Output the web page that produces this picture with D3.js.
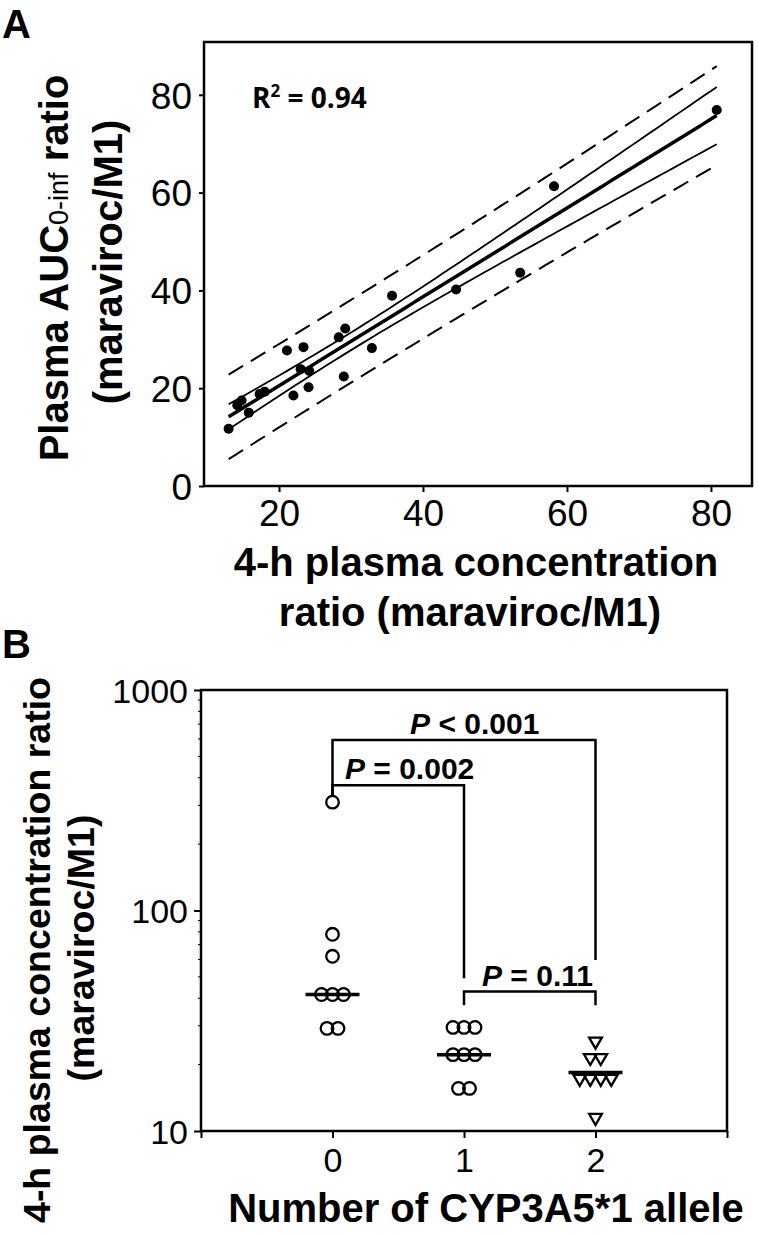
<!DOCTYPE html>
<html><head><meta charset="utf-8">
<script src="https://cdn.jsdelivr.net/npm/d3@7"></script>
<style>body{margin:0;background:#fff} svg{display:block}</style>
</head><body>
<svg id="c" width="759" height="1234"></svg>
<script>
// ---------- Panel A data ----------
const conc4h   = [13.0,14.2,14.8,15.8,17.3,18.0,21.1,23.4,22.0,23.0,24.2,24.1,28.3,29.2,29.0,32.9,35.7,44.6,53.5,58.2,80.8];
const aucRatio = [11.7,16.5,17.5,15.0,18.8,19.3,27.7,28.4,18.5,23.9,23.5,20.2,30.4,32.2,22.4,28.2,38.9,40.2,43.6,61.3,76.9];
const xTicksA = [20,40,60,80];
const yTicksA = [0,20,40,60,80];
const tCrit = 2.093; // t(0.975, df = 19)

// ---------- Panel B data ----------
const alleleCats = [0,1,2];
const group0 = [310,78,62,41.6,41.6,41.6,29.2,29.2];
const group1 = [29.5,29.5,29.5,22.2,22.2,22.2,15.6,15.6];
const group2 = [25.5,21.5,21.5,17.3,17.3,17.3,17.3,11.5];
const groupMedians = [41.6,22.2,18.4];
const yTicksB = [10,100,1000];
const xTicksB = [-1,0,1,2,3];
const pLabels = ["< 0.001","= 0.002","= 0.11"];
const bracketFrom = [0,0,1];
const bracketTo   = [2,1,2];
const bracketLevel = [593,370,42.9];
const bracketLeftEnd = [334,334,37.2];
const bracketRightEnd = [59.7,49.3,37.2];

const svg = d3.select("#c");
const F = "'Liberation Sans', Arial, Helvetica, sans-serif";
const TITLE = 40;

// ================= PANEL A =================
const xA = d3.scaleLinear().domain([9.58, 85.7]).range([204, 752]);
const yA = d3.scaleLinear().domain([0, 90.8]).range([486, 42]);
const A = svg.append("g");

// least-squares fit with 95% confidence and prediction bands, computed from the data
const n = conc4h.length;
const mx = d3.mean(conc4h), my = d3.mean(aucRatio);
const sxx = d3.sum(conc4h, d => (d-mx)**2);
const syy = d3.sum(aucRatio, d => (d-my)**2);
const sxy = d3.sum(conc4h, (d,i) => (d-mx)*(aucRatio[i]-my));
const slope = sxy/sxx, icpt = my - slope*mx;
const r2 = sxy*sxy/(sxx*syy);
const sse = d3.sum(conc4h, (d,i) => (aucRatio[i] - icpt - slope*d)**2);
const se = Math.sqrt(sse/(n-2));
const fit = x => icpt + slope*x;
const ci = x => tCrit*se*Math.sqrt(1/n + (x-mx)**2/sxx);
const pi = x => tCrit*se*Math.sqrt(1 + 1/n + (x-mx)**2/sxx);
const x0 = d3.min(conc4h), x1 = d3.max(conc4h);
const xs = d3.range(81).map(i => x0 + i*(x1-x0)/80);
const lineA = f => d3.line().x(d => xA(d)).y(d => yA(f(d)))(xs);

A.append("path").attr("d", lineA(x => fit(x)+pi(x))).attr("fill","none").attr("stroke","#000").attr("stroke-width",2).attr("stroke-dasharray","17,9");
A.append("path").attr("d", lineA(x => fit(x)-pi(x))).attr("fill","none").attr("stroke","#000").attr("stroke-width",2).attr("stroke-dasharray","17,9");
A.append("path").attr("d", lineA(x => fit(x)+ci(x))).attr("fill","none").attr("stroke","#000").attr("stroke-width",1.8);
A.append("path").attr("d", lineA(x => fit(x)-ci(x))).attr("fill","none").attr("stroke","#000").attr("stroke-width",1.8);
A.append("path").attr("d", lineA(fit)).attr("fill","none").attr("stroke","#000").attr("stroke-width",3.5);

A.selectAll("circle.pt").data(conc4h).join("circle").attr("class","pt")
  .attr("cx", d => xA(d)).attr("cy", (d,i) => yA(aucRatio[i])).attr("r",5).attr("fill","#000");

// frame
A.append("rect").attr("x",xA.range()[0]).attr("y",yA.range()[1])
  .attr("width",xA.range()[1]-xA.range()[0]).attr("height",yA.range()[0]-yA.range()[1])
  .attr("fill","none").attr("stroke","#000").attr("stroke-width",2.5);

const axAx = A.append("g").attr("transform",`translate(0,${yA.range()[0]})`)
  .call(d3.axisBottom(xA).tickValues(xTicksA).tickSize(6).tickPadding(8));
const axAy = A.append("g").attr("transform",`translate(${xA.range()[0]},0)`)
  .call(d3.axisLeft(yA).tickValues(yTicksA).tickSize(5).tickPadding(7));
[axAx, axAy].forEach(g => {
  g.select(".domain").remove();
  g.selectAll("line").attr("stroke","#000").attr("stroke-width",2);
  g.selectAll("text").attr("font-family",F).attr("font-size",37).attr("fill","#000");
});
axAy.selectAll("text").attr("dy","0.36em");

// R^2 label
const r2t = A.append("text").attr("x",252).attr("y",108).attr("font-family","'Open Sans', "+F).attr("font-weight","bold").attr("font-size",28);
r2t.append("tspan").text("R");
r2t.append("tspan").attr("font-size",17).attr("dy",-11).text("2");
r2t.append("tspan").attr("dy",11).text(" = " + d3.format(".2f")(r2));

// axis titles A
const ytA = A.append("text").attr("transform","translate(68,268) rotate(-90)").attr("text-anchor","middle")
  .attr("font-family",F).attr("font-weight","bold").attr("font-size",TITLE);
ytA.append("tspan").text("Plasma AUC");
ytA.append("tspan").attr("font-weight","normal").attr("font-size",27).text("0-inf");
ytA.append("tspan").text(" ratio");
A.append("text").attr("transform","translate(122,262) rotate(-90)").attr("text-anchor","middle")
  .attr("font-family",F).attr("font-weight","bold").attr("font-size",TITLE).text("(maraviroc/M1)");
A.append("text").attr("x",476).attr("y",576).attr("text-anchor","middle")
  .attr("font-family",F).attr("font-weight","bold").attr("font-size",TITLE).text("4-h plasma concentration");
A.append("text").attr("x",470).attr("y",626).attr("text-anchor","middle")
  .attr("font-family",F).attr("font-weight","bold").attr("font-size",TITLE).text("ratio (maraviroc/M1)");
A.append("text").attr("x",2).attr("y",38).attr("font-family",F).attr("font-weight","bold").attr("font-size",40).text("A");

// ================= PANEL B =================
const xB = d3.scaleLinear().domain([-1,3]).range([201,727]);
const yB = d3.scaleLog().domain([10,1000]).range([1131,690]);
const B = svg.append("g");

// minor log ticks
const minorB = [];
[10,100].forEach(dec => d3.range(2,10).forEach(k => minorB.push(dec*k)));
B.selectAll("line.minor").data(minorB).join("line").attr("class","minor")
  .attr("x1",xB.range()[0]-3).attr("x2",xB.range()[0]).attr("y1",d=>yB(d)).attr("y2",d=>yB(d))
  .attr("stroke","#000").attr("stroke-width",1);

B.append("rect").attr("x",xB.range()[0]).attr("y",yB.range()[1])
  .attr("width",xB.range()[1]-xB.range()[0]).attr("height",yB.range()[0]-yB.range()[1])
  .attr("fill","none").attr("stroke","#000").attr("stroke-width",2.5);

const axBx = B.append("g").attr("transform",`translate(0,${yB.range()[0]})`)
  .call(d3.axisBottom(xB).tickValues(xTicksB).tickSize(7).tickPadding(10)
    .tickFormat(d => alleleCats.includes(d) ? d : ""));
const axBy = B.append("g").attr("transform",`translate(${xB.range()[0]},0)`)
  .call(d3.axisLeft(yB).tickValues(yTicksB).tickSize(7).tickPadding(6).tickFormat(d3.format("d")));
[axBx, axBy].forEach(g => {
  g.select(".domain").remove();
  g.selectAll("line").attr("stroke","#000").attr("stroke-width",2);
  g.selectAll("text").attr("font-family",F).attr("font-size",34).attr("fill","#000");
});
axBy.selectAll("text").attr("dy","0.36em");

// brackets
pLabels.forEach((lab,i) => {
  const xl = xB(bracketFrom[i]), xr = xB(bracketTo[i]), yl = yB(bracketLevel[i]);
  B.append("path").attr("d",`M${xl},${yB(bracketLeftEnd[i])}V${yl}H${xr}V${yB(bracketRightEnd[i])}`)
    .attr("fill","none").attr("stroke","#000").attr("stroke-width",2.5);
});
const labelAnchorX = [0.59, 0.095, 1.137];
pLabels.forEach((lab,i) => {
  const t = B.append("text").attr("x",xB(labelAnchorX[i])).attr("y",yB(bracketLevel[i])-6)
    .attr("font-family",F).attr("font-weight","bold").attr("font-size",30);
  t.append("tspan").attr("font-style","italic").text("P");
  t.append("tspan").text(" " + lab);
});

// points (equal values spread sideways)
function swarm(vals, cat, spacing){
  const out = [];
  d3.group(vals, v => v).forEach((arr, v) => {
    arr.forEach((_, k) => out.push({cat, v, dx:(k-(arr.length-1)/2)*spacing}));
  });
  return out;
}
const circPts = swarm(group0,0,11).concat(swarm(group1,1,11));
const triPts = swarm(group2,2,10.5);

// median lines
B.selectAll("line.med").data(groupMedians).join("line").attr("class","med")
  .attr("x1",(d,i)=>xB(alleleCats[i])-27).attr("x2",(d,i)=>xB(alleleCats[i])+27)
  .attr("y1",d=>yB(d)).attr("y2",d=>yB(d)).attr("stroke","#000").attr("stroke-width",3.5);

B.selectAll("circle.pt").data(circPts).join("circle").attr("class","pt")
  .attr("cx",d=>xB(d.cat)+d.dx).attr("cy",d=>yB(d.v)).attr("r",6.3)
  .attr("fill","none").attr("stroke","#000").attr("stroke-width",2.3);
const tri = d3.symbol().type(d3.symbolTriangle).size(70);
B.selectAll("path.tri").data(triPts).join("path").attr("class","tri")
  .attr("transform",d=>`translate(${xB(d.cat)+d.dx},${yB(d.v)}) rotate(180)`)
  .attr("d",tri()).attr("fill","none").attr("stroke","#000").attr("stroke-width",2.3);

// titles B
B.append("text").attr("transform","translate(50,950) rotate(-90)").attr("text-anchor","middle")
  .attr("font-family",F).attr("font-weight","bold").attr("font-size",37.5).text("4-h plasma concentration ratio");
B.append("text").attr("transform","translate(94,948) rotate(-90)").attr("text-anchor","middle")
  .attr("font-family",F).attr("font-weight","bold").attr("font-size",37.5).text("(maraviroc/M1)");
B.append("text").attr("x",486).attr("y",1222).attr("text-anchor","middle")
  .attr("font-family",F).attr("font-weight","bold").attr("font-size",TITLE).text("Number of CYP3A5*1 allele");
B.append("text").attr("x",2).attr("y",658).attr("font-family",F).attr("font-weight","bold").attr("font-size",40).text("B");
</script>
</body></html>
